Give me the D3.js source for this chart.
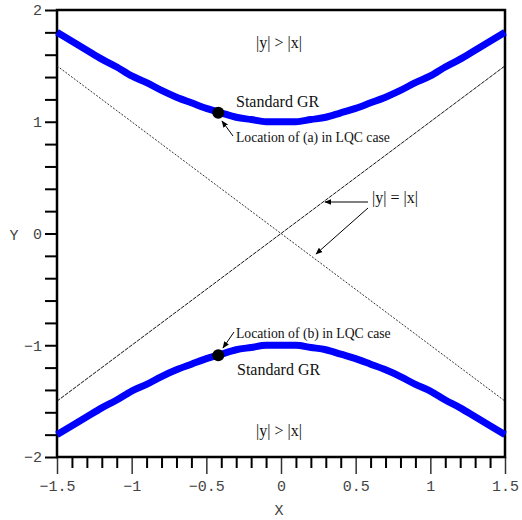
<!DOCTYPE html>
<html>
<head>
<meta charset="utf-8">
<script src="https://cdn.jsdelivr.net/npm/d3@7"></script>
<style>
  body { margin: 0; background: #fff; }
  .tick text { font-family: "Liberation Mono", "DejaVu Sans Mono", monospace; font-size: 15px; fill: #444; }
  .note { font-family: "Liberation Serif", "Times New Roman", serif; fill: #111; }
</style>
</head>
<body>
<svg id="chart" width="522" height="520"></svg>
<script>
// values
var curveX = [-1.5, -1.4, -1.3, -1.2, -1.1, -1.0, -0.9, -0.8, -0.7, -0.6, -0.5, -0.4, -0.3, -0.2, -0.1, 0,
              0.1, 0.2, 0.3, 0.4, 0.5, 0.6, 0.7, 0.8, 0.9, 1.0, 1.1, 1.2, 1.3, 1.4, 1.5];
var upperY = [1.80, 1.72, 1.64, 1.56, 1.49, 1.41, 1.35, 1.28, 1.22, 1.17, 1.12, 1.08, 1.04, 1.02, 1.00, 1.00,
              1.00, 1.02, 1.04, 1.08, 1.12, 1.17, 1.22, 1.28, 1.35, 1.41, 1.49, 1.56, 1.64, 1.72, 1.80];
var lowerY = [-1.80, -1.72, -1.64, -1.56, -1.49, -1.41, -1.35, -1.28, -1.22, -1.17, -1.12, -1.08, -1.04, -1.02, -1.00, -1.00,
              -1.00, -1.02, -1.04, -1.08, -1.12, -1.17, -1.22, -1.28, -1.35, -1.41, -1.49, -1.56, -1.64, -1.72, -1.80];
var lineRising = [[-1.5, -1.5], [1.5, 1.5]];
var lineFalling = [[-1.5, 1.5], [1.5, -1.5]];
var lqcPoints = [[-0.42, 1.08], [-0.42, -1.09]];
var xMajor = [-1.5, -1, -0.5, 0, 0.5, 1, 1.5];
var xMinor = [-1.4, -1.3, -1.2, -1.1, -0.9, -0.8, -0.7, -0.6, -0.4, -0.3, -0.2, -0.1,
              0.1, 0.2, 0.3, 0.4, 0.6, 0.7, 0.8, 0.9, 1.1, 1.2, 1.3, 1.4];
var yMajor = [-2, -1, 0, 1, 2];
var yMinor = [-1.8, -1.6, -1.4, -1.2, -0.8, -0.6, -0.4, -0.2, 0.2, 0.4, 0.6, 0.8, 1.2, 1.4, 1.6, 1.8];

var padL = 57, padR = 505, padT = 10, padB = 457;
var svg = d3.select("#chart");

var xs = d3.scaleLinear().domain([-1.5, 1.5]).range([padL, padR]);
var ys = d3.scaleLinear().domain([-2, 2]).range([padB, padT]);

var defs = svg.append("defs");
defs.append("marker").attr("id", "arr")
  .attr("viewBox", "0 0 10 10").attr("refX", 9).attr("refY", 5)
  .attr("markerWidth", 7).attr("markerHeight", 7).attr("orient", "auto")
  .append("path").attr("d", "M0,1 L10,5 L0,9 Z").attr("fill", "#000");

function fmt(d) { return String(d).replace("-", "\u2212"); }

// axes: ticks pointing outward
var xAxisMinor = d3.axisBottom(xs).tickValues(xMinor).tickSize(11).tickFormat("");
var xAxisMajor = d3.axisBottom(xs).tickValues(xMajor).tickSize(17).tickPadding(6).tickFormat(fmt);
var yAxisMinor = d3.axisLeft(ys).tickValues(yMinor).tickSize(12).tickFormat("");
var yAxisMajor = d3.axisLeft(ys).tickValues(yMajor).tickSize(12).tickPadding(3).tickFormat(fmt);

var gxm = svg.append("g").attr("transform", "translate(0," + padB + ")").call(xAxisMinor);
gxm.selectAll(".tick line").attr("stroke", "#000").attr("stroke-width", 2);
var gx = svg.append("g").attr("transform", "translate(0," + padB + ")").call(xAxisMajor);
gx.selectAll(".tick line").attr("stroke", "#333").attr("stroke-width", 1.5);
var gym = svg.append("g").attr("transform", "translate(" + padL + ",0)").call(yAxisMinor);
gym.selectAll(".tick line").attr("stroke", "#000").attr("stroke-width", 2);
var gy = svg.append("g").attr("transform", "translate(" + padL + ",0)").call(yAxisMajor);
gy.selectAll(".tick line").attr("stroke", "#000").attr("stroke-width", 2);
svg.selectAll(".domain").remove();

// frame
svg.append("rect").attr("x", padL).attr("y", padT)
  .attr("width", padR - padL).attr("height", padB - padT)
  .attr("fill", "none").attr("stroke", "#000").attr("stroke-width", 2.5);

var line = d3.line().x(function(d){ return xs(d[0]); }).y(function(d){ return ys(d[1]); });

svg.append("path").datum(lineRising).attr("d", line)
  .attr("fill", "none").attr("stroke", "#111").attr("stroke-width", 1).attr("stroke-dasharray", "4,1");
svg.append("path").datum(lineFalling).attr("d", line)
  .attr("fill", "none").attr("stroke", "#333").attr("stroke-width", 1).attr("stroke-dasharray", "2,1.5");

var curve = d3.line().x(function(d){ return xs(d[0]); }).y(function(d){ return ys(d[1]); })
  .curve(d3.curveMonotoneX);
[upperY, lowerY].forEach(function(vals){
  svg.append("path").datum(curveX.map(function(v, i){ return [v, vals[i]]; })).attr("d", curve)
    .attr("fill", "none").attr("stroke", "#0000ff").attr("stroke-width", 7);
});

svg.selectAll("circle.lqc").data(lqcPoints).enter().append("circle").attr("class", "lqc")
  .attr("cx", function(d){ return xs(d[0]); }).attr("cy", function(d){ return ys(d[1]); })
  .attr("r", 6).attr("fill", "#000");

// annotations
function note(tx, ty, txt, size, anchor) {
  svg.append("text").attr("class", "note").attr("x", tx).attr("y", ty)
    .attr("font-size", size).attr("text-anchor", anchor || "start").text(txt);
}
function arrow(x1, y1, x2, y2) {
  svg.append("line").attr("x1", x1).attr("y1", y1).attr("x2", x2).attr("y2", y2)
    .attr("stroke", "#000").attr("stroke-width", 1).attr("marker-end", "url(#arr)");
}

note(279, 48, "|y| > |x|", 16, "middle");
note(279, 436, "|y| > |x|", 16, "middle");
note(236, 107, "Standard GR", 16);
note(236, 142, "Location of (a) in LQC case", 13.7);
arrow(233, 136, 222, 121);
note(236, 338, "Location of (b) in LQC case", 13.7);
arrow(234, 332, 223, 348);
note(237, 375, "Standard GR", 16);
note(372, 203, "|y| = |x|", 16);
arrow(368, 202, 325, 202);
arrow(368, 208, 316, 254);

// axis titles
svg.append("text").attr("x", 279).attr("y", 515).attr("text-anchor", "middle")
  .attr("font-family", "Liberation Mono, monospace").attr("font-size", 15).attr("fill", "#444").text("X");
svg.append("text").attr("x", 14).attr("y", 238).attr("text-anchor", "middle").attr("dy", "0.1em")
  .attr("font-family", "Liberation Mono, monospace").attr("font-size", 15).attr("fill", "#444").text("Y");
</script>
</body>
</html>
